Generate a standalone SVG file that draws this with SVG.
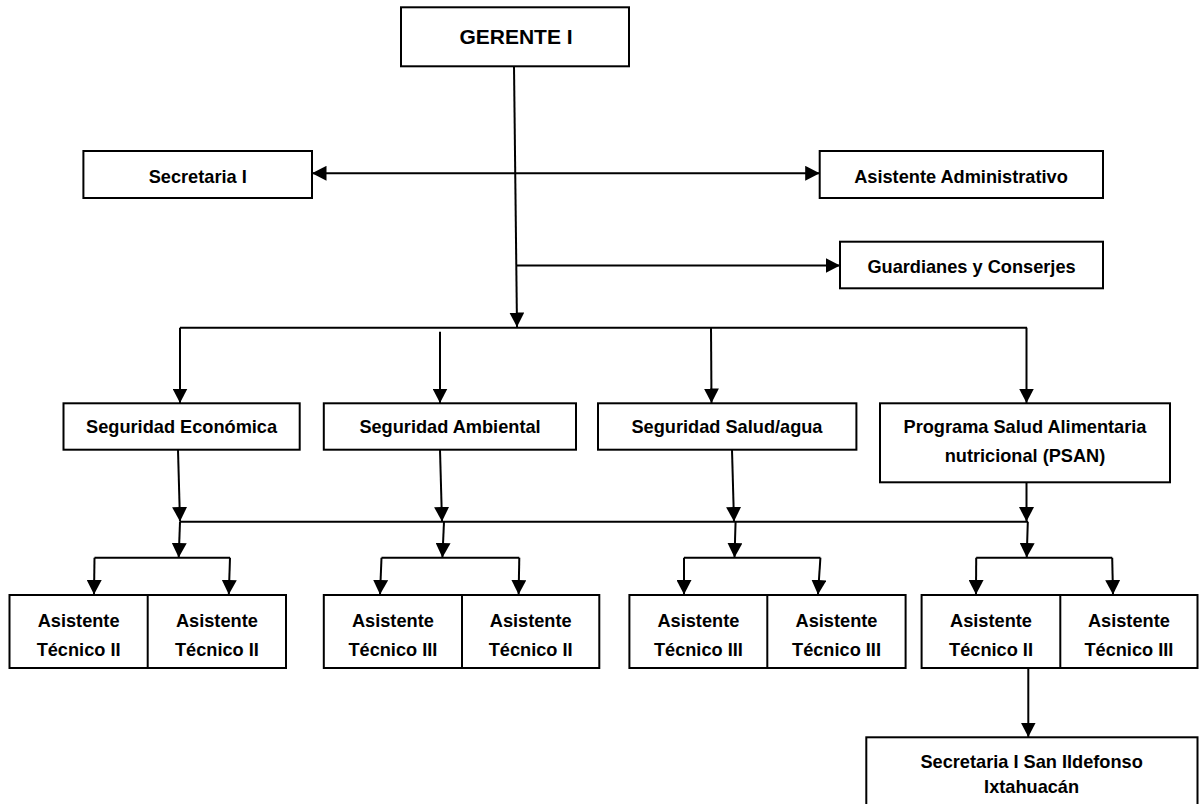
<svg xmlns="http://www.w3.org/2000/svg" width="1199" height="804" viewBox="0 0 1199 804">
<defs>
<style>
.box{fill:#fff;stroke:#000;stroke-width:2}
.div{stroke:#000;stroke-width:2}
.t{font-family:"Liberation Sans",Arial,sans-serif;font-weight:bold;font-size:18.2px;fill:#000;text-anchor:middle}
.big{font-size:21px}
.c{fill:none;stroke:#000;stroke-width:2}
.a{marker-end:url(#ah)}
.aa{marker-end:url(#ah);marker-start:url(#ah)}
</style>
<marker id="ah" markerUnits="userSpaceOnUse" markerWidth="15" markerHeight="15" refX="14.5" refY="7.5" orient="auto-start-reverse">
<path d="M0,0 L14.5,7.5 L0,15 z" fill="#000"/>
</marker>
</defs>
<rect width="1199" height="804" fill="#fff"/>
<g id="connectors">
<line class="c a" x1="514" y1="66" x2="517" y2="327"/>
<line class="c aa" x1="312" y1="173.3" x2="819.7" y2="173.3"/>
<line class="c a" x1="516" y1="265.5" x2="840" y2="265.5"/>
<line class="c" x1="180" y1="327.7" x2="1027" y2="327.7"/>
<line class="c a" x1="180" y1="327.7" x2="180" y2="403"/>
<line class="c a" x1="440" y1="331.7" x2="440" y2="403"/>
<line class="c a" x1="711" y1="327.7" x2="711.5" y2="403"/>
<line class="c a" x1="1026.5" y1="327.7" x2="1026.5" y2="403"/>
<line class="c a" x1="178" y1="449.7" x2="180" y2="521.5"/>
<line class="c a" x1="440" y1="449.7" x2="442" y2="521.5"/>
<line class="c a" x1="732" y1="449.7" x2="734" y2="521.5"/>
<line class="c a" x1="1026.5" y1="482.3" x2="1026.5" y2="521.5"/>
<line class="c" x1="180" y1="521.7" x2="1028" y2="521.7"/>
<line class="c a" x1="180" y1="521.7" x2="178.7" y2="557.5"/>
<line class="c a" x1="444" y1="521.7" x2="442.4" y2="557.5"/>
<line class="c a" x1="735.6" y1="521.7" x2="734.5" y2="557.5"/>
<line class="c a" x1="1027.8" y1="521.7" x2="1026.7" y2="557.5"/>
<polyline class="c" points="94.5,557.7 230,557.7"/>
<polyline class="c" points="381.5,557.7 519.3,557.7"/>
<polyline class="c" points="684,557.7 820.4,557.7"/>
<polyline class="c" points="976.2,557.7 1112.2,557.7"/>
<line class="c a" x1="94.5" y1="557.7" x2="94" y2="594.5"/>
<line class="c a" x1="230" y1="557.7" x2="228.8" y2="594.5"/>
<line class="c a" x1="381.5" y1="557.7" x2="380" y2="594.5"/>
<line class="c a" x1="519.3" y1="557.7" x2="518.6" y2="594.5"/>
<line class="c a" x1="684" y1="557.7" x2="684" y2="594.5"/>
<line class="c a" x1="820.4" y1="557.7" x2="818" y2="594.5"/>
<line class="c a" x1="976.2" y1="557.7" x2="976" y2="594.5"/>
<line class="c a" x1="1112.2" y1="557.7" x2="1113" y2="594.5"/>
<line class="c a" x1="1028.3" y1="668" x2="1028.3" y2="737"/>
</g>
<g id="gerente">
<rect class="box" x="401" y="7.3" width="228" height="59"/>
<text class="t big" x="516" y="43.5">GERENTE I</text>
</g>
<g id="secretaria">
<rect class="box" x="83.4" y="151" width="228.6" height="47"/>
<text class="t" x="197.7" y="182.7">Secretaria I</text>
</g>
<g id="asistente-administrativo">
<rect class="box" x="819.7" y="151" width="283.3" height="47"/>
<text class="t" x="961" y="183">Asistente Administrativo</text>
</g>
<g id="guardianes">
<rect class="box" x="840" y="241.7" width="263" height="46.6"/>
<text class="t" x="971.5" y="273">Guardianes y Conserjes</text>
</g>
<g id="seg-economica">
<rect class="box" x="63.5" y="403.3" width="236.2" height="46.4"/>
<text class="t" x="181.6" y="433">Seguridad Económica</text>
</g>
<g id="seg-ambiental">
<rect class="box" x="323.8" y="403.3" width="252.2" height="46.4"/>
<text class="t" x="450" y="433">Seguridad Ambiental</text>
</g>
<g id="seg-salud">
<rect class="box" x="598" y="403.3" width="258.4" height="46.4"/>
<text class="t" x="727" y="433">Seguridad Salud/agua</text>
</g>
<g id="psan">
<rect class="box" x="880" y="403.3" width="290" height="79"/>
<text class="t" x="1025" y="433">Programa Salud Alimentaria</text>
<text class="t" x="1025" y="461.7">nutricional (PSAN)</text>
</g>
<g id="pair1">
<rect class="box" x="9.5" y="595" width="276.5" height="73"/>
<line class="div" x1="147.7" y1="595" x2="147.7" y2="668"/>
<text class="t" x="78.6" y="626.7">Asistente</text>
<text class="t" x="78.6" y="655.5">Técnico II</text>
<text class="t" x="216.9" y="626.7">Asistente</text>
<text class="t" x="216.9" y="655.5">Técnico II</text>
</g>
<g id="pair2">
<rect class="box" x="323.8" y="595" width="275.5" height="73"/>
<line class="div" x1="462" y1="595" x2="462" y2="668"/>
<text class="t" x="392.9" y="626.7">Asistente</text>
<text class="t" x="392.9" y="655.5">Técnico III</text>
<text class="t" x="530.7" y="626.7">Asistente</text>
<text class="t" x="530.7" y="655.5">Técnico II</text>
</g>
<g id="pair3">
<rect class="box" x="629.4" y="595" width="276.2" height="73"/>
<line class="div" x1="767.3" y1="595" x2="767.3" y2="668"/>
<text class="t" x="698.4" y="626.7">Asistente</text>
<text class="t" x="698.4" y="655.5">Técnico III</text>
<text class="t" x="836.5" y="626.7">Asistente</text>
<text class="t" x="836.5" y="655.5">Técnico III</text>
</g>
<g id="pair4">
<rect class="box" x="921.6" y="595" width="275.9" height="73"/>
<line class="div" x1="1060.3" y1="595" x2="1060.3" y2="668"/>
<text class="t" x="991" y="626.7">Asistente</text>
<text class="t" x="991" y="655.5">Técnico II</text>
<text class="t" x="1128.9" y="626.7">Asistente</text>
<text class="t" x="1128.9" y="655.5">Técnico III</text>
</g>
<g id="secretaria-san-ildefonso">
<rect class="box" x="866.3" y="737.3" width="331.2" height="80"/>
<text class="t" x="1031.6" y="768">Secretaria I San Ildefonso</text>
<text class="t" x="1031.6" y="793.3">Ixtahuacán</text>
</g>
</svg>
